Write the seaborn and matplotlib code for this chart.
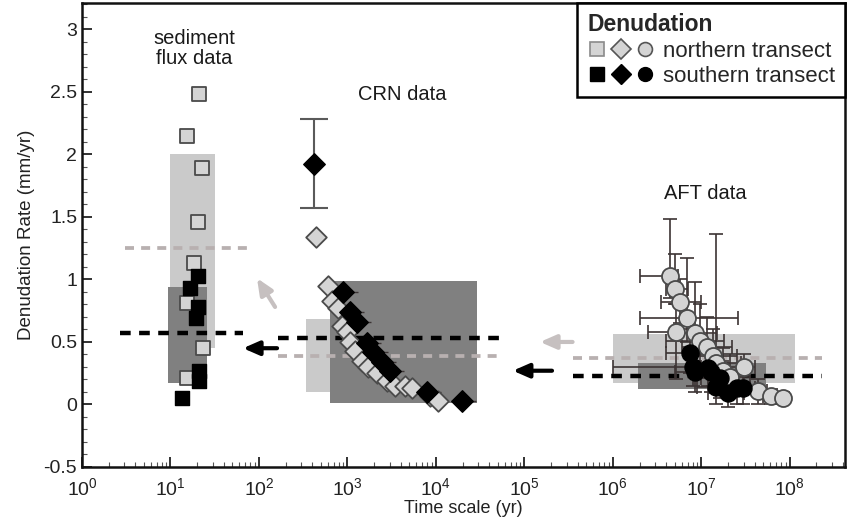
import numpy as np
import pandas as pd
import matplotlib
matplotlib.use("Agg")
import matplotlib.pyplot as plt
import seaborn as sns
from matplotlib.patches import Rectangle
from matplotlib.lines import Line2D
from matplotlib.legend_handler import HandlerTuple
from matplotlib.ticker import LogLocator, MultipleLocator, NullFormatter

# ---------------- data ----------------
# sediment flux data (squares)
sed_n_x = [21, 15.2, 22.5, 20.3, 18.4, 15.2, 23.1, 15.2]
sed_n_y = [2.48, 2.15, 1.89, 1.46, 1.13, 0.81, 0.45, 0.21]
sed_s_x = [20.3, 16.6, 20.5, 19.4, 21, 21, 13.4]
sed_s_y = [1.03, 0.93, 0.78, 0.69, 0.27, 0.19, 0.05]

# CRN data (diamonds)
crn_n_x = [607, 663, 787, 860, 979, 1067, 1216, 1446, 1718, 2138, 2773, 3443, 4466, 5313, 8552, 10620, 441]
crn_n_y = [0.95, 0.83, 0.77, 0.63, 0.58, 0.50, 0.43, 0.35, 0.30, 0.25, 0.19, 0.15, 0.15, 0.13, 0.07, 0.03, 1.34]
crn_s_x = [897, 1067, 1270, 1648, 1958, 2432, 3020, 7850, 19500]
crn_s_y = [0.90, 0.74, 0.66, 0.49, 0.42, 0.34, 0.27, 0.10, 0.03]
crn_outlier_x = [418]
crn_outlier_y = [1.92]
crn_outlier_lo = [1.57]
crn_outlier_hi = [2.28]

# AFT data (circles) with error bounds
aft_n_x = [4.4e6, 5.0e6, 5.7e6, 6.8e6, 5.15e6, 8.5e6, 9.6e6, 1.15e7, 1.35e7, 1.48e7, 1.75e7, 2.1e7, 3.0e7, 4.35e7, 6.2e7, 8.3e7]
aft_n_y = [1.03, 0.92, 0.82, 0.69, 0.58, 0.57, 0.51, 0.46, 0.39, 0.33, 0.27, 0.22, 0.30, 0.11, 0.07, 0.05]
aft_n_xlo = [2.0e6, 4.0e6, 3.5e6, 2.0e6, 2.5e6, 5.0e6, 4.0e6, 6.0e6, 7.0e6, 8.0e6, 1.0e7, 1.2e7, 2.0e7, 3.0e7, 5.0e7, 7.0e7]
aft_n_xhi = [5.5e6, 7.0e6, 1.0e7, 2.6e7, 6.0e6, 1.5e7, 1.8e7, 2.2e7, 2.5e7, 2.8e7, 3.0e7, 3.5e7, 4.0e7, 5.5e7, 7.0e7, 9.0e7]
aft_n_ylo = [0.85, 0.80, 0.65, 0.50, 0.20, 0.35, 0.30, 0.30, 0.15, 0.10, 0.10, 0.05, 0.15, 0.00, 0.00, 0.00]
aft_n_yhi = [1.48, 1.20, 1.00, 1.17, 0.80, 0.98, 0.80, 0.70, 0.60, 1.36, 0.45, 0.40, 0.40, 0.20, 0.12, 0.10]

aft_s_x = [7.4e6, 8.0e6, 8.5e6, 1.18e7, 1.3e7, 1.62e7, 1.48e7, 2.0e7, 2.5e7, 2.95e7]
aft_s_y = [0.41, 0.30, 0.26, 0.29, 0.26, 0.21, 0.14, 0.09, 0.13, 0.13]
aft_s_xlo = [4.0e6, 1.0e6, 5.0e6, 7.0e6, 8.0e6, 1.0e7, 9.0e6, 1.2e7, 1.6e7, 2.0e7]
aft_s_xhi = [1.2e7, 1.3e7, 1.4e7, 1.8e7, 2.0e7, 2.5e7, 2.2e7, 3.0e7, 3.5e7, 4.0e7]
aft_s_ylo = [0.25, 0.15, 0.10, 0.15, 0.10, 0.05, 0.00, -0.02, 0.00, 0.00]
aft_s_yhi = [0.60, 0.45, 0.40, 0.45, 0.40, 0.35, 0.30, 0.20, 0.25, 0.25]

# range boxes
box_x0 = [10, 9.4, 340, 634, 1.0e6, 1.9e6]
box_x1 = [32, 26, 3000, 29000, 1.14e8, 5.4e7]
box_y0 = [0.45, 0.17, 0.10, 0.01, 0.17, 0.12]
box_y1 = [2.00, 0.94, 0.68, 0.99, 0.56, 0.33]
box_kind = ["light", "dark", "light", "dark", "light", "dark"]

# mean lines (dashed)
mean_x0 = [3.06, 2.7, 164, 164, 3.5e5, 3.5e5]
mean_x1 = [83, 66, 5.6e4, 5.6e4, 2.3e8, 2.3e8]
mean_y = [1.25, 0.57, 0.39, 0.53, 0.37, 0.23]
mean_kind = ["light", "dark", "light", "dark", "light", "dark"]

# arrows: tail -> head
arr_tx = [152, 160, 3.5e5, 2.05e5]
arr_ty = [0.78, 0.45, 0.50, 0.27]
arr_hx = [95, 66, 1.5e5, 7.4e4]
arr_hy = [1.01, 0.45, 0.50, 0.27]
arr_kind = ["light", "dark", "light", "dark"]

labels_txt = ["sediment\nflux data", "CRN data", "AFT data"]
labels_x = [18.4, 4130, 1.1e7]
labels_y = [2.85, 2.48, 1.685]

# ---------------- style ----------------
sns.set_theme(style="white")
plt.rcParams["font.family"] = ["Liberation Sans", "DejaVu Sans"]
plt.rcParams["mathtext.fontset"] = "custom"
plt.rcParams["mathtext.rm"] = "Liberation Sans"
plt.rcParams["mathtext.it"] = "Liberation Sans:italic"

LIGHT_FILL = "#d4d4d4"
EDGE = "#4a4a4a"
BOX_COL = {"light": "#cacaca", "dark": "#808080"}
LINE_COL = {"light": "#b8b0b0", "dark": "#000000"}
ARR_COL = {"light": "#c6c0c0", "dark": "#000000"}

fig = plt.figure(figsize=(8.49, 5.25), dpi=100)
ax = fig.add_axes([0.0966, 0.1105, 0.8987, 0.8835])
ax.set_xscale("log")

for x0, x1, y0, y1, k in zip(box_x0, box_x1, box_y0, box_y1, box_kind):
    ax.add_patch(Rectangle((x0, y0), x1 - x0, y1 - y0, facecolor=BOX_COL[k],
                           edgecolor="none", zorder=1))

for x0, x1, y, k in zip(mean_x0, mean_x1, mean_y, mean_kind):
    ax.plot([x0, x1], [y, y], color=LINE_COL[k], lw=3.2 if k == "dark" else 2.7,
            dashes=(2.4, 1.9), zorder=2, solid_capstyle="butt")

for tx, ty, hx, hy, k in zip(arr_tx, arr_ty, arr_hx, arr_hy, arr_kind):
    ax.annotate("", xy=(hx, hy), xytext=(tx, ty),
                arrowprops=dict(arrowstyle="-|>,head_length=0.8,head_width=0.35",
                                color=ARR_COL[k], lw=3.0, shrinkA=0, shrinkB=0),
                zorder=2)

ex_n = [np.array(aft_n_x) - np.array(aft_n_xlo), np.array(aft_n_xhi) - np.array(aft_n_x)]
ey_n = [np.array(aft_n_y) - np.array(aft_n_ylo), np.array(aft_n_yhi) - np.array(aft_n_y)]
ax.errorbar(aft_n_x, aft_n_y, xerr=ex_n, yerr=ey_n, fmt="none", ecolor="#3c3434",
            elinewidth=1.2, capsize=5, capthick=1.2, zorder=3)
ex_s = [np.array(aft_s_x) - np.array(aft_s_xlo), np.array(aft_s_xhi) - np.array(aft_s_x)]
ey_s = [np.array(aft_s_y) - np.array(aft_s_ylo), np.array(aft_s_yhi) - np.array(aft_s_y)]
ax.errorbar(aft_s_x, aft_s_y, xerr=ex_s, yerr=ey_s, fmt="none", ecolor="#3c3434",
            elinewidth=1.2, capsize=5, capthick=1.2, zorder=3)

ax.errorbar(crn_s_x, crn_s_y, xerr=[np.array(crn_s_x) * 0.25, np.array(crn_s_x) * 0.45],
            fmt="none", ecolor="#3c3434", elinewidth=1.0, capsize=0, zorder=3)
ax.errorbar(crn_outlier_x, crn_outlier_y,
            yerr=[np.array(crn_outlier_y) - np.array(crn_outlier_lo),
                  np.array(crn_outlier_hi) - np.array(crn_outlier_y)],
            fmt="none", ecolor="#5a5a5a", elinewidth=1.5, capsize=10, capthick=1.5, zorder=3)

def pts(x, y):
    return pd.DataFrame({"x": x, "y": y})

sns.scatterplot(data=pts(sed_n_x, sed_n_y), x="x", y="y", ax=ax, marker="s", s=95,
                color=LIGHT_FILL, edgecolor=EDGE, linewidth=1.3, zorder=5)
sns.scatterplot(data=pts(sed_s_x, sed_s_y), x="x", y="y", ax=ax, marker="s", s=105,
                color="black", edgecolor="black", linewidth=1, zorder=6)
sns.scatterplot(data=pts(crn_n_x, crn_n_y), x="x", y="y", ax=ax, marker="D", s=110,
                color=LIGHT_FILL, edgecolor=EDGE, linewidth=1.3, zorder=5)
sns.scatterplot(data=pts(crn_s_x, crn_s_y), x="x", y="y", ax=ax, marker="D", s=120,
                color="black", edgecolor="black", linewidth=1, zorder=6)
sns.scatterplot(data=pts(crn_outlier_x, crn_outlier_y), x="x", y="y", ax=ax, marker="D",
                s=120, color="black", edgecolor="black", linewidth=1, zorder=6)
sns.scatterplot(data=pts(aft_n_x, aft_n_y), x="x", y="y", ax=ax, marker="o", s=150,
                color=LIGHT_FILL, edgecolor=EDGE, linewidth=1.3, zorder=5)
sns.scatterplot(data=pts(aft_s_x, aft_s_y), x="x", y="y", ax=ax, marker="o", s=150,
                color="black", edgecolor="black", linewidth=1, zorder=6)

for t, x, y in zip(labels_txt, labels_x, labels_y):
    ax.text(x, y, t, ha="center", va="center", fontsize=14.5, color="#1a1a1a",
            linespacing=1.05, zorder=7)

ax.set_xlim(1, 4.2e8)
ax.set_ylim(-0.5, 3.21)
ax.set_xticks([10.0 ** k for k in range(9)])
ax.xaxis.set_minor_locator(LogLocator(base=10, subs=np.arange(2, 10), numticks=20))
ax.xaxis.set_minor_formatter(NullFormatter())
ax.set_yticks([-0.5, 0, 0.5, 1, 1.5, 2, 2.5, 3])
ax.set_yticklabels(["-0.5", "0", "0.5", "1", "1.5", "2", "2.5", "3"])
ax.yaxis.set_minor_locator(MultipleLocator(0.1))
ax.tick_params(axis="both", which="major", direction="in", length=7, width=1.3,
               labelsize=14, colors="#222222", left=True, bottom=True, top=False, right=False)
ax.tick_params(axis="both", which="minor", direction="in", length=3.5, width=0.8,
               colors="#555555", left=True, bottom=True, top=False, right=False)
ax.tick_params(axis="x", which="major", pad=7)
for sp in ax.spines.values():
    sp.set_linewidth(1.8)
    sp.set_color("#111111")
ax.set_xlabel("Time scale (yr)", fontsize=13, color="#222222", labelpad=1)
ax.set_ylabel("Denudation Rate (mm/yr)", fontsize=13.5, color="#222222", labelpad=6)

h_n = (Line2D([], [], marker="s", ls="none", ms=10, mfc=LIGHT_FILL, mec="#8a8a8a", mew=1.2),
       Line2D([], [], marker="D", ls="none", ms=10.5, mfc=LIGHT_FILL, mec="#555555", mew=1.2),
       Line2D([], [], marker="o", ls="none", ms=10, mfc=LIGHT_FILL, mec="#555555", mew=1.2))
h_s = (Line2D([], [], marker="s", ls="none", ms=10, mfc="black", mec="black"),
       Line2D([], [], marker="D", ls="none", ms=10.5, mfc="black", mec="black"),
       Line2D([], [], marker="o", ls="none", ms=10, mfc="black", mec="black"))
leg = ax.legend([h_n, h_s], ["northern transect", "southern transect"],
                handler_map={tuple: HandlerTuple(ndivide=None, pad=0.25)},
                loc="upper right", borderaxespad=0, frameon=True, fancybox=False,
                edgecolor="black", framealpha=1, fontsize=16, title="Denudation",
                title_fontproperties={"weight": "bold", "size": 16.5},
                alignment="left", handlelength=3.0, handletextpad=0.4,
                labelspacing=0.2, borderpad=0.45)
leg.get_frame().set_linewidth(1.8)
leg.set_zorder(10)

fig.savefig("out.png", dpi=100)
